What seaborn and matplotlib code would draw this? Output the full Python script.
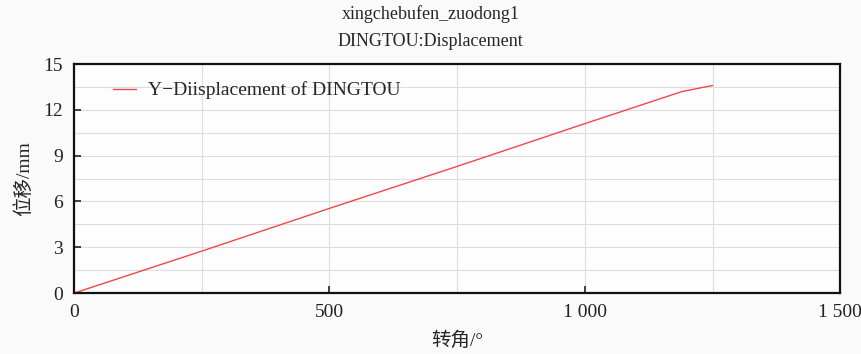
import numpy as np
import pandas as pd
import matplotlib
matplotlib.use('Agg')
import matplotlib.pyplot as plt
import seaborn as sns
from matplotlib.ticker import MultipleLocator, FuncFormatter

# data
angle = [0, 250, 500, 750, 1000, 1190, 1250]
disp = [0, 2.75, 5.55, 8.3, 11.1, 13.2, 13.6]
series = 'Y\u2212Diisplacement of DINGTOU'

df = pd.DataFrame({'angle': angle, 'disp': disp, 'name': series})

sns.set_theme(style='white')
plt.rcParams['font.family'] = ['Liberation Serif', 'Noto Sans CJK SC']
plt.rcParams['axes.unicode_minus'] = False

fig = plt.figure(figsize=(8.61, 3.54), dpi=100, facecolor='#fafafa')
ax = fig.add_axes([0.086, 0.172, 0.89, 0.647])
ax.set_facecolor('#fdfdfd')

sns.lineplot(data=df, x='angle', y='disp', hue='name', palette=['#f04848'],
             linewidth=1.0, ax=ax)

ax.set_xlim(0, 1500)
ax.set_ylim(0, 15)
ax.xaxis.set_major_locator(MultipleLocator(500))
ax.xaxis.set_minor_locator(MultipleLocator(250))
ax.yaxis.set_major_locator(MultipleLocator(3))
ax.yaxis.set_minor_locator(MultipleLocator(1.5))
ax.xaxis.set_major_formatter(FuncFormatter(lambda v, p: f'{int(v):,}'.replace(',', ' ')))
ax.grid(True, which='both', color='#dddddd', linewidth=0.8)
ax.tick_params(which='major', direction='in', length=5, width=1.2,
               left=True, bottom=True, labelsize=14, pad=8, colors='#222222')
ax.tick_params(which='minor', length=0)
for s in ax.spines.values():
    s.set_linewidth(1.6)
    s.set_color('#111111')

ax.set_xlabel('转角/°', fontsize=14, labelpad=7)
ax.set_ylabel('位移/mm', fontsize=14, labelpad=7)
fig.suptitle('xingchebufen_zuodong1\nDINGTOU:Displacement', fontsize=13,
             y=0.985, linespacing=1.75)

ax.legend(loc='upper left', frameon=False, fontsize=14, handlelength=1.2,
          handletextpad=0.6, bbox_to_anchor=(0.028, 1.0))

fig.savefig('out.png', dpi=100, facecolor=fig.get_facecolor())
